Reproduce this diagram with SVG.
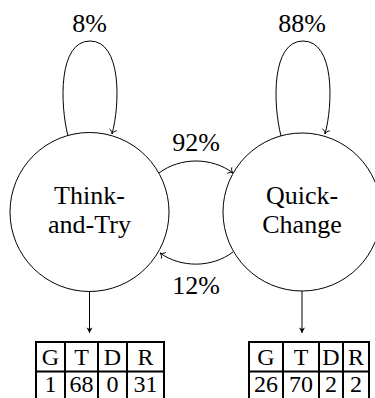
<svg xmlns="http://www.w3.org/2000/svg" width="375" height="398" viewBox="0 0 375 398" font-family="'Liberation Serif', 'DejaVu Serif', 'Times New Roman', Times, serif">
  <style>
    text { font-size: 26px; fill: #000; text-anchor: middle; }
    .cell { font-size: 24px; }
    .node { fill: #fff; stroke: #000; stroke-width: 1; }
    .edge { fill: none; stroke: #000; stroke-width: 1; }
    .grid { fill: #fff; stroke: #000; stroke-width: 2; }
    .rule { stroke: #000; stroke-width: 2; }
  </style>
  <defs>
    <marker id="to" markerUnits="userSpaceOnUse" orient="auto" overflow="visible" markerWidth="10" markerHeight="10" refX="0" refY="0">
      <path d="M-4.2,-3.4 C-3.4,-1.3 -1.3,-0.3 0,0 C-1.3,0.3 -3.4,1.3 -4.2,3.4" fill="none" stroke="#000" stroke-width="0.9" stroke-linecap="round"/>
    </marker>
    <marker id="head" markerUnits="userSpaceOnUse" orient="auto" overflow="visible" markerWidth="10" markerHeight="10" refX="0" refY="0">
      <path d="M0,0 L-5.5,-3 L-4,0 L-5.5,3 Z" fill="#000"/>
    </marker>
  </defs>

  <!-- transitions -->
  <g id="connectors">
    <path class="edge" d="M68,136 C60,105 58,41 90,41 C122,41 120,105 112,134" marker-end="url(#to)"/>
    <path class="edge" d="M281,136 C273,105 271,41 303,41 C335,41 333,105 325,134" marker-end="url(#to)"/>
    <path class="edge" d="M159,173 C180,157 212,157 233,173" marker-end="url(#to)"/>
    <path class="edge" d="M233,252 C212,268 181,268 160,253" marker-end="url(#to)"/>
    <line class="edge" x1="89.5" y1="291.5" x2="89.5" y2="333" marker-end="url(#head)"/>
    <line class="edge" x1="302" y1="291" x2="302" y2="333" marker-end="url(#head)"/>
    <text x="89.5" y="32">8%</text>
    <text x="302" y="32">88%</text>
    <text x="196" y="151">92%</text>
    <text x="196" y="294">12%</text>
  </g>

  <g id="think-and-try">
    <circle class="node" cx="89.5" cy="212" r="79.5"/>
    <text x="89.5" y="204">Think-</text>
    <text x="89.5" y="233">and-Try</text>
  </g>

  <g id="quick-change">
    <circle class="node" cx="302" cy="212" r="79"/>
    <text x="302" y="204">Quick-</text>
    <text x="302" y="233">Change</text>
  </g>

  <g id="table-think">
    <rect class="grid" x="36" y="342" width="128" height="62"/>
    <line class="rule" x1="36" y1="371.5" x2="164" y2="371.5"/>
    <line class="rule" x1="65" y1="342" x2="65" y2="404"/>
    <line class="rule" x1="98" y1="342" x2="98" y2="404"/>
    <line class="rule" x1="127" y1="342" x2="127" y2="404"/>
    <text class="cell" x="50.5" y="365">G</text>
    <text class="cell" x="81.5" y="365">T</text>
    <text class="cell" x="112.5" y="365">D</text>
    <text class="cell" x="145.5" y="365">R</text>
    <text class="cell" x="50.5" y="392">1</text>
    <text class="cell" x="81.5" y="392">68</text>
    <text class="cell" x="112.5" y="392">0</text>
    <text class="cell" x="145.5" y="392">31</text>
  </g>

  <g id="table-quick">
    <rect class="grid" x="249" y="342" width="120" height="62"/>
    <line class="rule" x1="249" y1="371.5" x2="369" y2="371.5"/>
    <line class="rule" x1="283" y1="342" x2="283" y2="404"/>
    <line class="rule" x1="319" y1="342" x2="319" y2="404"/>
    <line class="rule" x1="343" y1="342" x2="343" y2="404"/>
    <text class="cell" x="266" y="365">G</text>
    <text class="cell" x="301" y="365">T</text>
    <text class="cell" x="331" y="365">D</text>
    <text class="cell" x="356" y="365">R</text>
    <text class="cell" x="266" y="392">26</text>
    <text class="cell" x="301" y="392">70</text>
    <text class="cell" x="331" y="392">2</text>
    <text class="cell" x="356" y="392">2</text>
  </g>
</svg>
